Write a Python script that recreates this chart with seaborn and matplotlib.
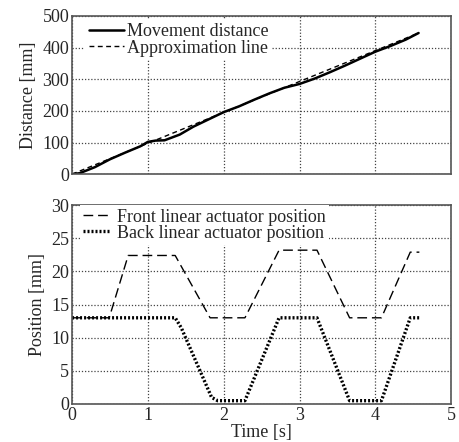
import pandas as pd
import seaborn as sns
import matplotlib.pyplot as plt

# movement distance (solid) and approximation line (dashed)
t_move = [0, 0.1, 0.3, 0.5, 0.7, 0.9, 1.0, 1.1, 1.22, 1.42, 1.6, 1.8, 2.0, 2.2, 2.4,
          2.6, 2.8, 3.0, 3.2, 3.4, 3.6, 3.8, 4.0, 4.2, 4.4, 4.57]
dist_move = [0, 3, 22, 47, 68, 88, 102, 106, 107, 125, 150, 173, 196, 214, 235,
             255, 273, 285, 302, 322, 343, 365, 387, 405, 425, 446]
t_approx = [0, 4.57]
dist_approx = [0, 446]

# actuator positions
t_front = [0, 0.49, 0.74, 1.36, 1.82, 2.28, 2.73, 3.23, 3.66, 4.08, 4.46, 4.58]
front_pos = [13, 13, 22.4, 22.4, 13, 13, 23.2, 23.2, 13, 13, 22.9, 22.9]
t_back = [0, 1.36, 1.44, 1.84, 1.92, 2.28, 2.73, 3.23, 3.66, 4.08, 4.46, 4.58]
back_pos = [13, 13, 11.5, 1.0, 0.5, 0.5, 13, 13, 0.5, 0.5, 13, 13]

sns.set_style('white')
plt.rcParams['font.family'] = ['Liberation Serif', 'DejaVu Serif']

fig = plt.figure(figsize=(4.59, 4.42), dpi=100)
ax1 = fig.add_axes([0.157, 0.606, 0.826, 0.358])
ax2 = fig.add_axes([0.157, 0.086, 0.826, 0.450])

move_df = pd.DataFrame({'t': t_move, 'd': dist_move})
approx_df = pd.DataFrame({'t': t_approx, 'd': dist_approx})
sns.lineplot(data=move_df, x='t', y='d', ax=ax1, color='black', lw=1.8,
             label='Movement distance')
sns.lineplot(data=approx_df, x='t', y='d', ax=ax1, color='black', lw=1.0,
             label='Approximation line')
ax1.lines[1].set_dashes((3.5, 2.5))

front_df = pd.DataFrame({'t': t_front, 'p': front_pos})
back_df = pd.DataFrame({'t': t_back, 'p': back_pos})
sns.lineplot(data=front_df, x='t', y='p', ax=ax2, color='black', lw=1.0,
             label='Front linear actuator position')
sns.lineplot(data=back_df, x='t', y='p', ax=ax2, color='black', lw=2.4,
             label='Back linear actuator position')
ax2.lines[0].set_dashes((7, 3.5))
ax2.lines[1].set_dashes((0.6, 0.6))

for ax in (ax1, ax2):
    ax.set_xlim(0, 5)
    ax.set_xticks(range(6))
    ax.set_axisbelow(True)
    ax.grid(True, color='#444444', linestyle=(0, (1, 1.5)), linewidth=0.9)
    ax.tick_params(labelsize=13, length=0, pad=2)
    for s in ax.spines.values():
        s.set_color('#555555')
        s.set_linewidth(1.2)

ax1.set_ylim(0, 500)
ax1.set_yticks(range(0, 501, 100))
ax1.set_xticklabels([])
ax1.set_xlabel('')
ax1.set_ylabel('Distance [mm]', fontsize=13)

ax2.set_ylim(0, 30)
ax2.set_yticks(range(0, 31, 5))
ax2.set_xlabel('Time [s]', fontsize=13, labelpad=0)
ax2.set_ylabel('Position [mm]', fontsize=13)

for ax, anchor, hl, htp in ((ax1, (0.034, 0.975), 1.95, 0.18),
                            (ax2, (0.02, 1.0), 1.55, 0.3)):
    leg = ax.legend(loc='upper left', bbox_to_anchor=anchor, fontsize=13,
                    frameon=True, framealpha=1, edgecolor='white', fancybox=False,
                    handlelength=hl, handletextpad=htp, labelspacing=-0.05,
                    borderpad=0.2, borderaxespad=0)
    leg.get_frame().set_linewidth(0)

fig.savefig('out.png', dpi=100)
